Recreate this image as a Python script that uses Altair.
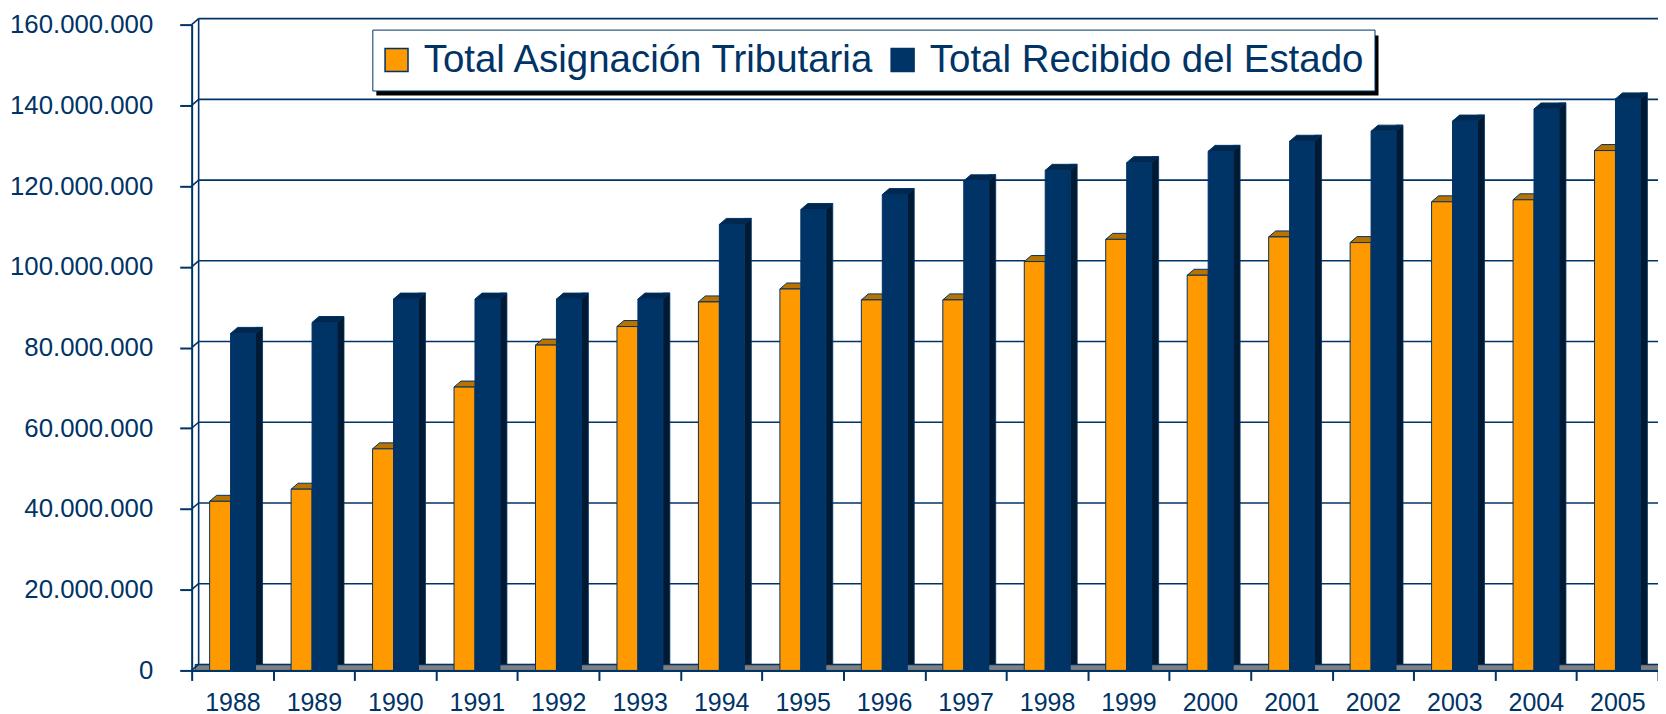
import altair as alt
import pandas as pd

# ---- data (values in millions) ----
years = [str(y) for y in range(1988, 2006)]
asignacion = [41.9, 44.9, 54.9, 70.2, 80.6, 85.2, 91.3, 94.5, 91.8, 91.8,
              101.3, 106.8, 97.9, 107.4, 106.0, 116.1, 116.6, 128.8]
recibido = [83.5, 86.2, 92.0, 92.0, 92.0, 92.0, 110.5, 114.2, 117.9, 121.3,
            123.9, 125.8, 128.6, 131.1, 133.6, 136.1, 139.1, 141.6]
series = ["Total Asignación Tributaria", "Total Recibido del Estado"]
tick_values = [0, 20e6, 40e6, 60e6, 80e6, 100e6, 120e6, 140e6, 160e6]

df_a = pd.DataFrame({"year": years, "value": [v * 1e6 for v in asignacion], "serie": series[0]})
df_b = pd.DataFrame({"year": years, "value": [v * 1e6 for v in recibido], "serie": series[1]})
df_t = pd.DataFrame({"t": tick_values})
df_one = pd.DataFrame({"d": [0]})

W, H = 1469, 647
FONT = "Liberation Sans"
NAVY = "#003366"
NAVY_TOP = "#00284f"
NAVY_SIDE = "#001a33"
ORANGE = "#FF9900"
ORANGE_TOP = "#B87300"
D = 6  # depth (px)

xscale = alt.Scale(domain=years, paddingInner=0, paddingOuter=0)
yscale = alt.Scale(domain=[0, 160e6], nice=False, zero=True)

xaxis = alt.Axis(title=None, labelAngle=0, labelFontSize=25, labelColor=NAVY, labelFont=FONT,
                 tickBand="extent", tickSize=10, tickColor=NAVY, tickWidth=2,
                 domainColor=NAVY, domainWidth=2, labelPadding=10, zindex=1)
yaxis = alt.Axis(title=None, values=tick_values,
                 labelExpr="replace(format(datum.value, ','), regexp(',', 'g'), '.')",
                 labelFontSize=25.8, labelColor=NAVY, labelFont=FONT, tickSize=12,
                 tickColor=NAVY, tickWidth=2, domainColor=NAVY, domainWidth=2,
                 labelPadding=27, grid=False, zindex=1)

X = alt.X("year:N", scale=xscale, axis=xaxis)
Yv = alt.Y("value:Q", scale=yscale, axis=yaxis, stack=None)

color = alt.Color("serie:N", scale=alt.Scale(domain=series, range=[ORANGE, NAVY]),
                  legend=alt.Legend(title=None, orient="none", legendX=181, legendY=5,
                                    direction="horizontal", symbolType="square",
                                    symbolSize=529, symbolStrokeColor=NAVY,
                                    symbolStrokeWidth=1.5, symbolOffset=-6,
                                    labelFontSize=38.5,
                                    labelFont=FONT, labelColor=NAVY, labelOffset=8,
                                    columnPadding=12, padding=11, strokeColor=NAVY,
                                    fillColor="white", labelLimit=2000))

floor = alt.Chart(df_one).mark_rect(fill="#808080", stroke=NAVY, strokeWidth=1, yOffset=-D).encode(
    x=alt.value(3.5), x2=alt.value(W + 8),
    y=alt.Y("d:Q", scale=yscale, axis=yaxis), y2=alt.datum(0))

grid = alt.Chart(df_t).mark_rule(color=NAVY, strokeWidth=1.6, yOffset=-D).encode(
    x=alt.value(7), x2=alt.value(W + 12), y=alt.Y("t:Q", scale=yscale, axis=yaxis))

connectors = alt.Chart(df_t).mark_rule(color=NAVY, strokeWidth=1.6, y2Offset=-D).encode(
    x=alt.value(0), x2=alt.value(7), y=alt.Y("t:Q", scale=yscale, axis=yaxis), y2="t:Q")

wall = alt.Chart(df_one).mark_rule(color=NAVY, strokeWidth=1.6, yOffset=-D, y2Offset=-D).encode(
    x=alt.value(7), y=alt.Y("d:Q", scale=yscale, axis=yaxis), y2=alt.datum(160e6))

orange_top = alt.Chart(df_a).mark_point(
    shape="M0,0L21,0L28,-6L7,-6Z", size=4, filled=True, fill=ORANGE_TOP, stroke=NAVY,
    strokeWidth=1, opacity=1, xOffset=-22.8).encode(x=X, y=Yv)

orange_front = alt.Chart(df_a).mark_bar(width=21, xOffset=-12.3, stroke=NAVY, strokeWidth=1,
                                        opacity=1).encode(x=X, y=Yv, color=color)

blue_side = alt.Chart(df_b).mark_bar(width=7, xOffset=26.7, yOffset=-D, y2Offset=-D,
                                     fill=NAVY_SIDE, stroke=NAVY, strokeWidth=0.8).encode(
    x=X, y=Yv, y2=alt.datum(0))

blue_top = alt.Chart(df_b).mark_point(
    shape="M0,0L25,0L32,-6L7,-6Z", size=4, filled=True, fill=NAVY_TOP, stroke=NAVY,
    strokeWidth=1, opacity=1, xOffset=-1.8).encode(x=X, y=Yv)

blue_front = alt.Chart(df_b).mark_bar(width=25, xOffset=10.7, stroke=NAVY, strokeWidth=1,
                                      opacity=1).encode(x=X, y=Yv, color=color)

shadow = alt.Chart(df_one).mark_rect(color="black").encode(
    x=alt.value(185), x2=alt.value(1189), y=alt.value(11), y2=alt.value(71))

chart = alt.layer(floor, grid, connectors, wall, orange_top, orange_front,
                  blue_side, blue_top, blue_front, shadow).properties(
    width=W, height=H,
    autosize=alt.AutoSizeParams(type="none"),
    padding={"left": 184, "top": 16, "right": 0, "bottom": 43},
    background="white",
).configure_view(stroke=None)

chart.save("out.html", embed_options={"renderer": "svg", "actions": False})
